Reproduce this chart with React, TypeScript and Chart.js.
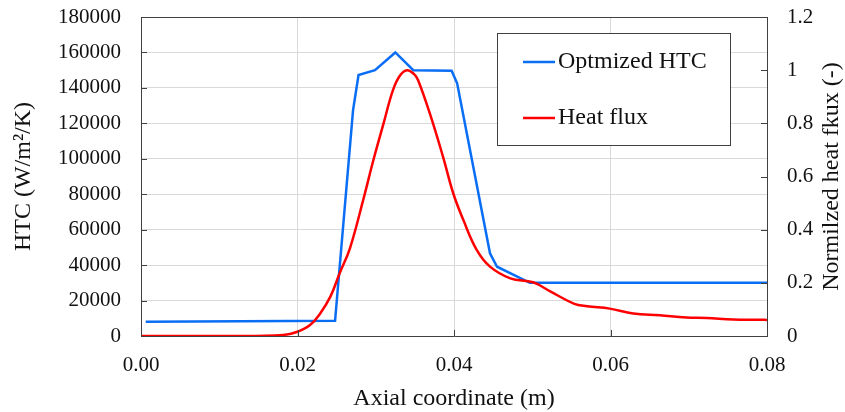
import React, { useEffect, useRef } from "react";
import { Chart, registerables } from "chart.js";

Chart.register(...registerables);

// ---- data ----
const htcLabel = "Optmized HTC";
const htcX = [0.0006, 0.0248, 0.0271, 0.0278, 0.0299, 0.0325, 0.0348, 0.0397, 0.0404, 0.0446, 0.0455, 0.0497, 0.08];
const htcY = [8100, 8600, 127500, 147300, 150000, 160000, 150000, 149700, 142600, 46700, 39100, 30000, 30000];

const fluxLabel = "Heat flux";
const fluxX = [0, 0.012, 0.0182, 0.0199, 0.0216, 0.0229, 0.0242, 0.0254, 0.0267, 0.0284, 0.0297, 0.031, 0.0322, 0.0331, 0.034, 0.0349, 0.0354, 0.0369, 0.0386, 0.0399, 0.0412, 0.0429, 0.0446, 0.0472, 0.0501, 0.0523, 0.0553, 0.057, 0.0599, 0.0629, 0.0663, 0.0697, 0.0723, 0.0757, 0.0797, 0.08];
const fluxY = [0, 0, 0.004, 0.015, 0.041, 0.085, 0.148, 0.237, 0.33, 0.512, 0.662, 0.8, 0.925, 0.98, 1.0, 0.985, 0.963, 0.838, 0.674, 0.537, 0.436, 0.324, 0.261, 0.217, 0.202, 0.168, 0.122, 0.112, 0.103, 0.085, 0.078, 0.07, 0.068, 0.062, 0.061, 0.06];

const xTitle = "Axial coordinate (m)";
const yTitle = "HTC (W/m²/K)";
const y1Title = "Normilzed heat fkux (-)";

const xRange = [0, 0.08];
const xStep = 0.02;
const yRange = [0, 180000];
const yStep = 20000;
const y1Range = [0, 1.2];
const y1Step = 0.2;

const BLUE = "#0a6ef5";
const RED = "#ff0000";
const AXIS = "#404040";
const GRID = "#d9d9d9";
const TEXT = "#111111";
const FONT = "'Liberation Serif', 'Times New Roman', serif";

const decorPlugin = {
  id: "decor",
  afterDraw(chart: any) {
    const ctx = chart.ctx as CanvasRenderingContext2D;
    const area = chart.chartArea;
    const sx = chart.scales.x;
    const sy = chart.scales.y;
    const sy1 = chart.scales.y1;
    ctx.save();
    ctx.strokeStyle = AXIS;
    ctx.lineWidth = 1;
    ctx.beginPath();
    // top border
    const top = Math.round(area.top) + 0.5;
    ctx.moveTo(Math.round(area.left), top);
    ctx.lineTo(Math.round(area.right) + 1, top);
    // inward ticks
    sy.ticks.forEach((t: any) => {
      const py = Math.round(sy.getPixelForValue(t.value)) + 0.5;
      ctx.moveTo(area.left, py);
      ctx.lineTo(area.left + 6, py);
    });
    sy1.ticks.forEach((t: any) => {
      const py = Math.round(sy1.getPixelForValue(t.value)) + 0.5;
      ctx.moveTo(area.right, py);
      ctx.lineTo(area.right - 6, py);
    });
    sx.ticks.forEach((t: any) => {
      const px = Math.round(sx.getPixelForValue(t.value)) + 0.5;
      ctx.moveTo(px, area.bottom);
      ctx.lineTo(px, area.bottom - 6);
    });
    ctx.stroke();

    // right axis title (reads bottom-to-top)
    ctx.fillStyle = TEXT;
    ctx.font = `24px ${FONT}`;
    ctx.textAlign = "center";
    ctx.textBaseline = "middle";
    ctx.save();
    ctx.translate(832, (area.top + area.bottom) / 2);
    ctx.rotate(-Math.PI / 2);
    ctx.fillText(y1Title, 0, 0);
    ctx.restore();

    // legend box
    const bx = 497.5, by = 33.5, bw = 233, bh = 112;
    ctx.fillStyle = "#ffffff";
    ctx.fillRect(bx, by, bw, bh);
    ctx.strokeStyle = AXIS;
    ctx.lineWidth = 1;
    ctx.strokeRect(bx, by, bw, bh);
    const items = [
      { label: chart.data.datasets[0].label, color: chart.data.datasets[0].borderColor, y: 62 },
      { label: chart.data.datasets[1].label, color: chart.data.datasets[1].borderColor, y: 118 },
    ];
    items.forEach((it) => {
      ctx.strokeStyle = it.color;
      ctx.lineWidth = 2.5;
      ctx.beginPath();
      ctx.moveTo(523, it.y);
      ctx.lineTo(555, it.y);
      ctx.stroke();
      ctx.fillStyle = TEXT;
      ctx.textAlign = "left";
      ctx.textBaseline = "middle";
      ctx.font = `24px ${FONT}`;
      ctx.fillText(it.label, 558, it.y);
    });
    ctx.restore();
  },
};

export default function App() {
  const ref = useRef<HTMLCanvasElement | null>(null);

  useEffect(() => {
    if (!ref.current) return;
    const chart = new Chart(ref.current, {
      type: "line",
      data: {
        datasets: [
          {
            label: htcLabel,
            data: htcX.map((x, i) => ({ x, y: htcY[i] })),
            borderColor: BLUE,
            backgroundColor: BLUE,
            borderWidth: 2.5,
            pointRadius: 0,
            tension: 0,
            yAxisID: "y",
            order: 1,
          },
          {
            label: fluxLabel,
            data: fluxX.map((x, i) => ({ x, y: fluxY[i] })),
            borderColor: RED,
            backgroundColor: RED,
            borderWidth: 2.5,
            pointRadius: 0,
            tension: 0.4,
            yAxisID: "y1",
            order: 0,
          },
        ],
      },
      options: {
        animation: false,
        responsive: true,
        maintainAspectRatio: false,
        layout: { padding: { top: 17, left: 0, right: 0, bottom: 0 } },
        plugins: {
          legend: { display: false },
          tooltip: { enabled: false },
        },
        scales: {
          x: {
            type: "linear",
            min: xRange[0],
            max: xRange[1],
            ticks: {
              stepSize: xStep,
              padding: 17,
              color: TEXT,
              font: { family: FONT, size: 21 },
              callback: (v: any) => Number(v).toFixed(2),
            },
            grid: { color: GRID, drawTicks: false },
            border: { color: AXIS, width: 1 },
            title: {
              display: true,
              text: xTitle,
              color: TEXT,
              font: { family: FONT, size: 24, lineHeight: 1 },
              padding: { top: 0, bottom: 1 },
            },
            afterFit: (s: any) => {
              s.height = 76;
              s.paddingLeft = 0;
              s.paddingRight = 0;
            },
          },
          y: {
            type: "linear",
            position: "left",
            min: yRange[0],
            max: yRange[1],
            ticks: {
              stepSize: yStep,
              padding: 20,
              color: TEXT,
              font: { family: FONT, size: 21 },
              callback: (v: any) => String(v),
            },
            grid: { color: GRID, drawTicks: false },
            border: { color: AXIS, width: 1 },
            title: {
              display: true,
              text: yTitle,
              color: TEXT,
              font: { family: FONT, size: 24, lineHeight: 1 },
              padding: { top: 12, bottom: 0 },
            },
            afterFit: (s: any) => {
              s.width = 141;
              s.paddingTop = 0;
              s.paddingBottom = 0;
            },
          },
          y1: {
            type: "linear",
            position: "right",
            min: y1Range[0],
            max: y1Range[1],
            ticks: {
              stepSize: y1Step,
              padding: 20,
              color: TEXT,
              font: { family: FONT, size: 21 },
              callback: (v: any) => String(Number(Number(v).toFixed(1))),
            },
            grid: { drawOnChartArea: false, drawTicks: false },
            border: { color: AXIS, width: 1 },
            afterFit: (s: any) => {
              s.width = 78;
              s.paddingTop = 0;
              s.paddingBottom = 0;
            },
          },
        },
      },
      plugins: [decorPlugin],
    } as any);
    return () => chart.destroy();
  }, []);

  return (
    <div style={{ position: "absolute", left: 0, top: 0, width: 845, height: 412, background: "#ffffff" }}>
      <canvas ref={ref} />
    </div>
  );
}
